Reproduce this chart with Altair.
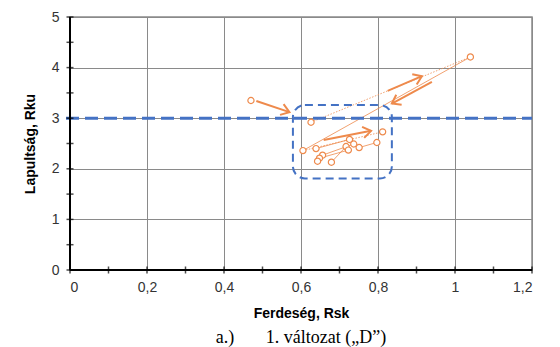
import altair as alt
import pandas as pd
import math

# ---- data ----
pt_x = [0.47, 0.626, 1.04, 0.812, 0.605, 0.639, 0.726, 0.737, 0.717, 0.723, 0.751, 0.797, 0.656, 0.648, 0.643, 0.679]
pt_y = [3.35, 2.92, 4.21, 2.73, 2.36, 2.40, 2.58, 2.49, 2.44, 2.37, 2.42, 2.52, 2.27, 2.21, 2.15, 2.13]

seg_x1 = [0.605, 0.626, 0.605, 0.639, 0.656, 0.679, 0.648, 0.751]
seg_y1 = [2.36, 2.92, 2.36, 2.40, 2.27, 2.13, 2.21, 2.42]
seg_x2 = [1.04, 1.04, 0.812, 0.726, 0.737, 0.717, 0.723, 0.797]
seg_y2 = [4.21, 4.21, 2.73, 2.58, 2.49, 2.44, 2.37, 2.52]
seg_dash = ["solid", "dot", "dot", "solid", "solid", "solid", "solid", "solid"]

arr_x1 = [0.484, 0.825, 0.940, 0.659]
arr_y1 = [3.34, 3.54, 3.72, 2.57]
arr_x2 = [0.570, 0.914, 0.836, 0.782]
arr_y2 = [3.12, 3.83, 3.29, 2.75]

box_x = [0.579]
box_x2 = [0.836]
box_y = [1.81]
box_y2 = [3.26]

ref_y = [3.0]

x_ticks = [0, 0.1, 0.2, 0.3, 0.4, 0.5, 0.6, 0.7, 0.8, 0.9, 1.0, 1.1, 1.2]
y_ticks = [0, 0.5, 1, 1.5, 2, 2.5, 3, 3.5, 4, 4.5, 5]

W, H = 462, 253
XMAX, YMAX = 1.2, 5

ORANGE = "#EE8A4C"
BLUE = "#4472C4"

pts = pd.DataFrame({"x": pt_x, "y": pt_y})
segs = pd.DataFrame({"x": seg_x1, "y": seg_y1, "x2": seg_x2, "y2": seg_y2, "d": seg_dash})
angles = [math.degrees(math.atan2(-(b2 - b1) * H / YMAX, (a2 - a1) * W / XMAX))
          for a1, b1, a2, b2 in zip(arr_x1, arr_y1, arr_x2, arr_y2)]
arrs = pd.DataFrame({"x": arr_x1, "y": arr_y1, "x2": arr_x2, "y2": arr_y2, "ang": angles})
box = pd.DataFrame({"x": box_x, "x2": box_x2, "y": box_y, "y2": box_y2})
ref = pd.DataFrame({"y": ref_y})
xt = pd.DataFrame({"x": x_ticks})
yt = pd.DataFrame({"y": y_ticks})

xscale = alt.Scale(domain=[0, XMAX], nice=False, zero=False)
yscale = alt.Scale(domain=[0, YMAX], nice=False, zero=False)

x_axis = alt.Axis(
    values=x_ticks,
    title="Ferdeség, Rsk",
    ticks=False,
    labelExpr="abs(datum.value*5 - round(datum.value*5)) < 0.01 ? replace(format(datum.value, '~g'), '.', ',') : ''",
    gridOpacity={"condition": {"test": "abs(datum.value*5 - round(datum.value*5)) < 0.01 && datum.value > 0.01", "value": 1}, "value": 0},
)
y_axis = alt.Axis(
    values=y_ticks,
    title="Lapultság, Rku",
    ticks=False,
    labelExpr="abs(datum.value - round(datum.value)) < 0.01 ? format(datum.value, 'd') : ''",
    gridOpacity={"condition": {"test": "abs(datum.value - round(datum.value)) < 0.01 && datum.value > 0.01", "value": 1}, "value": 0},
)

base_x = alt.X("x:Q", scale=xscale, axis=x_axis)
base_y = alt.Y("y:Q", scale=yscale, axis=y_axis)

seg_solid = alt.Chart(segs).transform_filter("datum.d == 'solid'").mark_rule(
    color=ORANGE, strokeWidth=1, opacity=0.8
).encode(x=base_x, y=base_y, x2="x2:Q", y2="y2:Q")

seg_dot = alt.Chart(segs).transform_filter("datum.d == 'dot'").mark_rule(
    color=ORANGE, strokeWidth=1, strokeDash=[1.5, 1.5], opacity=0.8
).encode(x=base_x, y=base_y, x2="x2:Q", y2="y2:Q")

arrow_lines = alt.Chart(arrs).mark_rule(color=ORANGE, strokeWidth=2).encode(
    x=base_x, y=base_y, x2="x2:Q", y2="y2:Q"
)
arrow_heads = alt.Chart(arrs).mark_point(
    shape="M-1,-0.7L0,0L-1,0.7", filled=False, color=ORANGE, strokeWidth=2, size=260, opacity=1
).encode(
    x=alt.X("x2:Q", scale=xscale, axis=x_axis),
    y=alt.Y("y2:Q", scale=yscale, axis=y_axis),
    angle=alt.Angle("ang:Q", scale=None),
)

points = alt.Chart(pts).mark_point(
    shape="circle", filled=True, fill="white", stroke=ORANGE, strokeWidth=1.2, size=38, opacity=1
).encode(x=base_x, y=base_y)

ref_line = alt.Chart(ref).mark_rule(color=BLUE, strokeWidth=3, strokeDash=[13, 6]).encode(
    y=base_y, x=alt.value(-4), x2=alt.value(W)
)

box_rect = alt.Chart(box).mark_rect(
    fillOpacity=0, stroke=BLUE, strokeWidth=2, strokeDash=[8, 5], cornerRadius=12
).encode(x=base_x, x2="x2:Q", y=base_y, y2="y2:Q")

# axis lines and crossing tick marks
x_domain = alt.Chart(xt).mark_rule(color="black", strokeWidth=2).encode(
    x=alt.value(0), x2=alt.value(W), y=alt.value(H)
)
y_domain = alt.Chart(yt).mark_rule(color="black", strokeWidth=2).encode(
    y=alt.value(0), y2=alt.value(H), x=alt.value(0)
)
x_tick_marks = alt.Chart(xt).mark_tick(color="black", thickness=1.5, size=7, orient="vertical").encode(
    x=base_x, y=alt.value(H)
)
y_tick_marks = alt.Chart(yt).mark_tick(color="black", thickness=1.5, size=7, orient="horizontal").encode(
    y=base_y, x=alt.value(0)
)

chart = alt.layer(
    seg_solid, seg_dot, arrow_lines, arrow_heads, ref_line, box_rect,
    x_domain, y_domain, x_tick_marks, y_tick_marks, points
).properties(
    width=W,
    height=H,
    autosize=alt.AutoSizeParams(type="none"),
    padding={"left": 70, "top": 17, "right": 28, "bottom": 77},
    title=alt.TitleParams(
        text="a.)\u00a0\u00a0\u00a0\u00a0\u00a0\u00a0\u00a01. változat („D”)",
        orient="bottom",
        anchor="middle",
        font="Liberation Serif",
        fontSize=18,
        fontWeight="normal",
        color="black",
        offset=9,
    ),
).configure(
    background="white"
).configure_view(
    stroke="#8a8a8a", strokeWidth=1.5
).configure_axis(
    gridColor="#8a8a8a",
    gridWidth=1,
    domain=False,
    labelFont="Liberation Sans",
    labelFontSize=14,
    labelColor="#333333",
    titleFont="Liberation Sans",
    titleFontSize=14,
    titleFontWeight="bold",
    titleColor="black",
).configure_axisX(
    labelPadding=10, titlePadding=12
).configure_axisY(
    labelPadding=11, titlePadding=14
)

chart.save("out.html", embed_options={"renderer": "svg", "actions": False})
